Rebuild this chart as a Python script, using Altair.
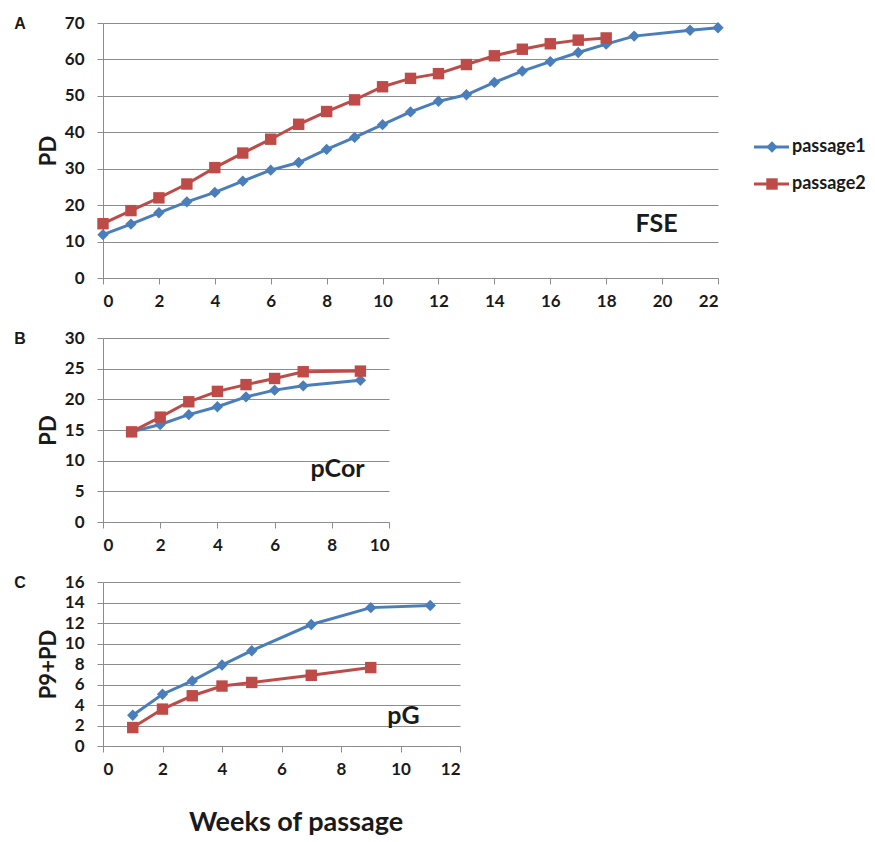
import altair as alt
import pandas as pd

series_names = ["passage1", "passage2"]
series_colors = ["#4a7ebb", "#be4b48"]
series_shapes = ["diamond", "square"]
panel_letters = ["A", "B", "C"]
panel_notes = ["FSE", "pCor", "pG"]
y_titles = ["PD", "PD", "P9+PD"]
x_title = "Weeks of passage"

# Panel A (FSE)
a_p1_weeks = [0, 1, 2, 3, 4, 5, 6, 7, 8, 9, 10, 11, 12, 13, 14, 15, 16, 17, 18, 19, 21, 22]
a_p1_pd = [11.9, 14.8, 17.9, 20.9, 23.5, 26.6, 29.6, 31.7, 35.3, 38.6, 42.1, 45.6,
           48.5, 50.3, 53.7, 56.8, 59.4, 61.9, 64.2, 66.4, 68.0, 68.7]
a_p2_weeks = [0, 1, 2, 3, 4, 5, 6, 7, 8, 9, 10, 11, 12, 13, 14, 15, 16, 17, 18]
a_p2_pd = [14.9, 18.5, 22.0, 25.8, 30.3, 34.3, 38.1, 42.2, 45.7, 48.9, 52.5, 54.8,
           56.1, 58.6, 61.0, 62.8, 64.3, 65.3, 65.9]

# Panel B (pCor)
b_p1_weeks = [1, 2, 3, 4, 5, 6, 7, 9]
b_p1_pd = [14.7, 15.9, 17.5, 18.8, 20.4, 21.5, 22.2, 23.1]
b_p2_weeks = [1, 2, 3, 4, 5, 6, 7, 9]
b_p2_pd = [14.7, 17.1, 19.6, 21.3, 22.4, 23.4, 24.5, 24.6]

# Panel C (pG)
c_p1_weeks = [1, 2, 3, 4, 5, 7, 9, 11]
c_p1_pd = [3.0, 5.05, 6.35, 7.9, 9.3, 11.85, 13.5, 13.7]
c_p2_weeks = [1, 2, 3, 4, 5, 7, 9]
c_p2_pd = [1.8, 3.6, 4.9, 5.85, 6.2, 6.9, 7.65]

# note positions (data coordinates)
note_x = [19.8, 8.2, 10.1]
note_y = [14.8, 8.7, 2.9]

FONT = "Lato"
TXT = "#1a1a1a"


def long_df(w1, v1, w2, v2):
    return pd.DataFrame({
        "week": list(w1) + list(w2),
        "pd": list(v1) + list(v2),
        "series": [series_names[0]] * len(w1) + [series_names[1]] * len(w2),
    })


color_scale = alt.Scale(domain=series_names, range=series_colors)
shape_scale = alt.Scale(domain=series_names, range=series_shapes)


def panel(i, df, xmax, ymax, ystep, width, height, xtitle=""):
    x_axis_kwargs = dict(values=list(range(0, xmax + 1, 2)), grid=False, title=xtitle,
                         labelOverlap=False)
    if xtitle:
        x_axis_kwargs.update(titleFontSize=27, titlePadding=32, titleX=width / 2 + 14)
    x = alt.X("week:Q", scale=alt.Scale(domain=[0, xmax], nice=False, zero=False),
              axis=alt.Axis(**x_axis_kwargs))
    y = alt.Y("pd:Q", scale=alt.Scale(domain=[0, ymax], nice=False),
              axis=alt.Axis(values=list(range(0, ymax + 1, ystep)), grid=True,
                            labelOverlap=False,
                            title=y_titles[i], titlePadding=4, labelPadding=13))
    base = alt.Chart(df).encode(x=x, y=y)
    lines = base.mark_line(strokeWidth=3).encode(
        color=alt.Color("series:N", scale=color_scale, legend=None))
    pts = base.mark_point(filled=True, opacity=1, size=130).encode(
        color=alt.Color("series:N", scale=color_scale, legend=None),
        shape=alt.Shape("series:N", scale=shape_scale, legend=None))
    note_df = pd.DataFrame({"week": [note_x[i]], "pd": [note_y[i]], "t": [panel_notes[i]]})
    note = alt.Chart(note_df).mark_text(
        font=FONT, fontSize=25, fontWeight="bold", color=TXT, align="center", baseline="middle"
    ).encode(x=x, y=y, text="t:N")
    letter = alt.Chart(pd.DataFrame({"t": [panel_letters[i]]})).mark_text(
        font="Liberation Sans", fontSize=16, fontWeight="bold", color=TXT, align="center", baseline="middle"
    ).encode(x=alt.value(-83), y=alt.value(1), text="t:N")
    return alt.layer(lines, pts, note, letter).properties(width=width, height=height)


pA = panel(0, long_df(a_p1_weeks, a_p1_pd, a_p2_weeks, a_p2_pd), 22, 70, 10, 615, 255)
pB = panel(1, long_df(b_p1_weeks, b_p1_pd, b_p2_weeks, b_p2_pd), 10, 30, 5, 286, 184)
pC = panel(2, long_df(c_p1_weeks, c_p1_pd, c_p2_weeks, c_p2_pd), 12, 16, 2, 357, 164, xtitle=x_title)

leg_df = pd.DataFrame({"series": series_names, "idx": [0, 1]})
leg_y = alt.Y("idx:Q", scale=alt.Scale(domain=[0, 1], range=[124, 161], zero=False, nice=False), axis=None)
leg_base = alt.Chart(leg_df).encode(y=leg_y)
leg_rule = leg_base.mark_rule(strokeWidth=3).encode(
    x=alt.value(0), x2=alt.value(35),
    color=alt.Color("series:N", scale=color_scale, legend=None))
leg_pts = leg_base.mark_point(filled=True, opacity=1, size=130).encode(
    x=alt.value(18),
    color=alt.Color("series:N", scale=color_scale, legend=None),
    shape=alt.Shape("series:N", scale=shape_scale, legend=None))
leg_txt = leg_base.mark_text(font=FONT, fontSize=18, fontWeight="bold", color=TXT,
                             align="left", baseline="middle").encode(
    x=alt.value(38), text="series:N")
legend = alt.layer(leg_rule, leg_pts, leg_txt).properties(width=75, height=255)

top = alt.hconcat(pA, legend, spacing=28)
chart = alt.vconcat(top, pB, pC, spacing=20).properties(
    padding={"left": 6, "top": 6, "right": 0, "bottom": 0}
).configure_view(stroke=None).configure_axis(
    domainColor="#8c8c8c", tickColor="#8c8c8c", gridColor="#8c8c8c",
    domainWidth=1, tickWidth=1, gridWidth=1, tickSize=6,
    labelFont=FONT, labelFontSize=17, labelFontWeight="bold", labelColor=TXT,
    titleFont=FONT, titleFontSize=22, titleFontWeight="bold", titleColor=TXT,
).configure_axisX(labelPadding=9)

chart.save("out.html", embed_options={"renderer": "svg", "actions": False})
